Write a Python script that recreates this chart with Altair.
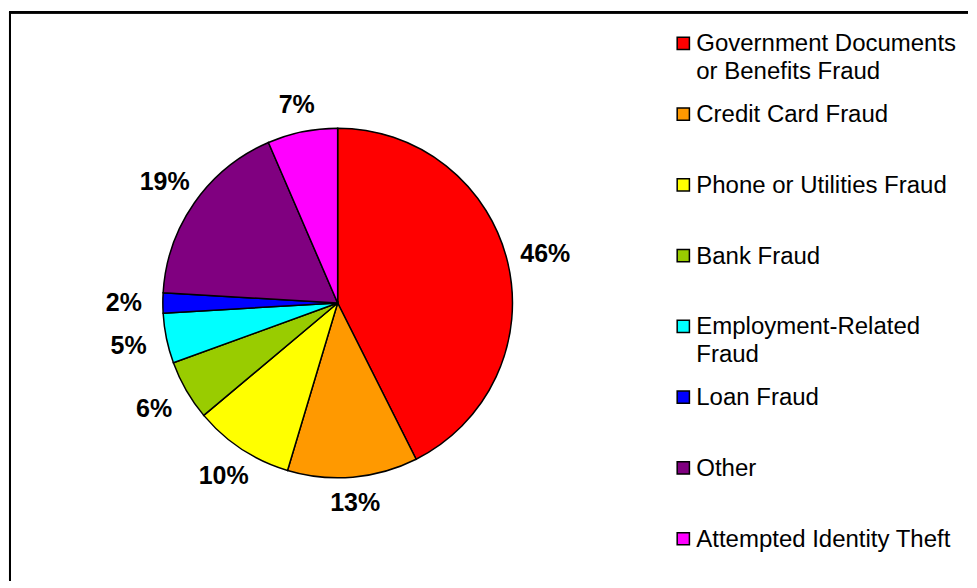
import altair as alt
import pandas as pd

categories = [
    "Government Documents or Benefits Fraud",
    "Credit Card Fraud",
    "Phone or Utilities Fraud",
    "Bank Fraud",
    "Employment-Related Fraud",
    "Loan Fraud",
    "Other",
    "Attempted Identity Theft",
]
legend_labels = [
    "Government Documents\nor Benefits Fraud",
    "Credit Card Fraud",
    "Phone or Utilities Fraud",
    "Bank Fraud",
    "Employment-Related\nFraud",
    "Loan Fraud",
    "Other",
    "Attempted Identity Theft",
]
values = [46, 13, 10, 6, 5, 2, 19, 7]
colors = ["#FF0000", "#FF9900", "#FFFF00", "#99CC00", "#00FFFF", "#0000FF", "#800080", "#FF00FF"]

df = pd.DataFrame({
    "cat": categories,
    "label": legend_labels,
    "value": values,
    "order": list(range(len(categories))),
})

W, H = 959, 569
CX, CY = 328, 291
FONT = "Liberation Sans"

color = alt.Color("cat:N", scale=alt.Scale(domain=categories, range=colors), legend=None)

base = alt.Chart(df)

arc = base.mark_arc(outerRadius=175, stroke="black", strokeWidth=1.5).encode(
    theta=alt.Theta("value:Q", stack=True),
    color=color,
    order=alt.Order("order:Q"),
    x=alt.value(CX),
    y=alt.value(CY),
)

pct = base.transform_joinaggregate(
    total="sum(value)"
).transform_window(
    cum="sum(value)", sort=[alt.SortField("order")], frame=[None, 0]
).transform_calculate(
    mid="2*PI*(datum.cum - datum.value/2)/datum.total",
    r="200 + 14*abs(sin(datum.mid))",
    pct="datum.value + '%'",
).mark_text(font=FONT, fontSize=25, fontWeight="bold", color="black", baseline="middle").encode(
    theta=alt.Theta("mid:Q", scale=None),
    radius=alt.Radius("r:Q", scale=None),
    text="pct:N",
    x=alt.value(CX),
    y=alt.value(CY),
)

ypos = alt.Y("cat:N", sort=categories, scale=alt.Scale(range=[31, 527], padding=0), axis=None)

squares = base.mark_square(size=150, stroke="black", strokeWidth=1.5, opacity=1).encode(
    x=alt.value(674),
    y=ypos,
    color=color,
)

texts = base.mark_text(font=FONT, fontSize=24, align="left", baseline="alphabetic",
                       dy=8, lineBreak="\n", lineHeight=28, color="black").encode(
    x=alt.value(687),
    y=ypos,
    text="label:N",
)

frame_left = alt.Chart(df).mark_rule(color="black", strokeWidth=2).encode(
    x=alt.value(0), y=alt.value(-1), y2=alt.value(H)
)
frame_top = alt.Chart(df).mark_rule(color="black", strokeWidth=2).encode(
    y=alt.value(0), x=alt.value(-1), x2=alt.value(W)
)

chart = alt.layer(frame_left, frame_top, arc, pct, squares, texts).resolve_scale(
    theta="independent", radius="independent"
).properties(
    width=W,
    height=H,
    padding={"left": 0, "top": 2, "right": 0, "bottom": 0},
).configure_view(
    stroke=None
)

chart.save("out.html", embed_options={"renderer": "svg", "actions": False})
